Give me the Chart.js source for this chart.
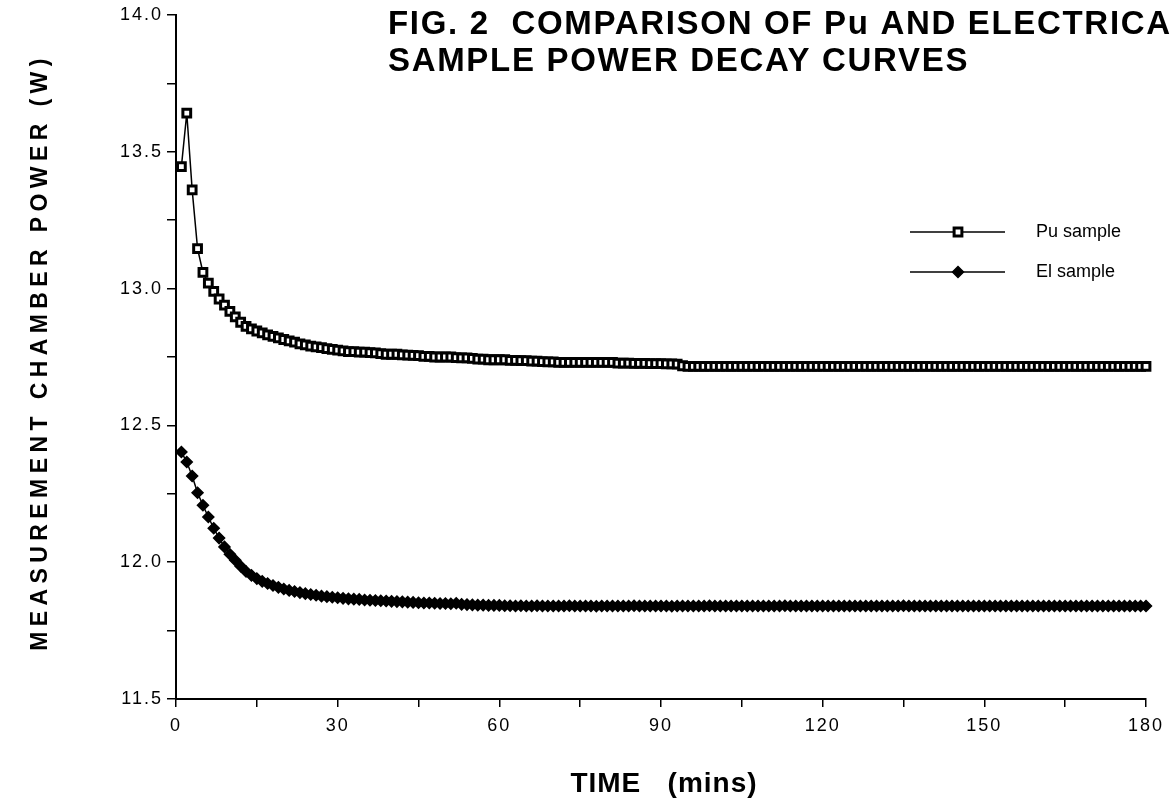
<!DOCTYPE html>
<html>
<head>
<meta charset="utf-8">
<script src="https://cdn.jsdelivr.net/npm/chart.js@4.4.0/dist/chart.umd.min.js"></script>
<style>
html, body { margin: 0; padding: 0; background: #fff; }
#wrap { position: relative; width: 1172px; height: 800px; }
</style>
</head>
<body>
<div id="wrap"><canvas id="chart" width="1172" height="800"></canvas></div>
<script>
// time of each reading (mins)
const times = [
  1, 2, 3, 4, 5, 6, 7, 8, 9, 10, 11, 12, 13, 14, 15, 16, 17, 18, 19, 20,
  21, 22, 23, 24, 25, 26, 27, 28, 29, 30, 31, 32, 33, 34, 35, 36, 37, 38, 39, 40,
  41, 42, 43, 44, 45, 46, 47, 48, 49, 50, 51, 52, 53, 54, 55, 56, 57, 58, 59, 60,
  61, 62, 63, 64, 65, 66, 67, 68, 69, 70, 71, 72, 73, 74, 75, 76, 77, 78, 79, 80,
  81, 82, 83, 84, 85, 86, 87, 88, 89, 90, 91, 92, 93, 94, 95, 96, 97, 98, 99, 100,
  101, 102, 103, 104, 105, 106, 107, 108, 109, 110, 111, 112, 113, 114, 115, 116, 117, 118, 119, 120,
  121, 122, 123, 124, 125, 126, 127, 128, 129, 130, 131, 132, 133, 134, 135, 136, 137, 138, 139, 140,
  141, 142, 143, 144, 145, 146, 147, 148, 149, 150, 151, 152, 153, 154, 155, 156, 157, 158, 159, 160,
  161, 162, 163, 164, 165, 166, 167, 168, 169, 170, 171, 172, 173, 174, 175, 176, 177, 178, 179, 180
];

// Pu sample power (W)
const puSample = [
  13.446, 13.641, 13.361, 13.146, 13.059, 13.020, 12.990, 12.962, 12.940, 12.917,
  12.897, 12.877, 12.862, 12.853, 12.845, 12.838, 12.831, 12.825, 12.820, 12.814,
  12.809, 12.804, 12.798, 12.794, 12.790, 12.787, 12.784, 12.781, 12.778, 12.775,
  12.772, 12.770, 12.770, 12.768, 12.768, 12.766, 12.765, 12.762, 12.760, 12.760,
  12.760, 12.758, 12.757, 12.756, 12.755, 12.752, 12.752, 12.750, 12.750, 12.750,
  12.750, 12.748, 12.747, 12.747, 12.745, 12.742, 12.742, 12.740, 12.740, 12.740,
  12.740, 12.738, 12.738, 12.737, 12.737, 12.735, 12.735, 12.733, 12.732, 12.732,
  12.730, 12.730, 12.730, 12.730, 12.730, 12.730, 12.730, 12.730, 12.730, 12.730,
  12.730, 12.728, 12.728, 12.728, 12.727, 12.727, 12.727, 12.726, 12.726, 12.726,
  12.725, 12.725, 12.724, 12.718, 12.716, 12.716, 12.716, 12.716, 12.716, 12.716,
  12.716, 12.716, 12.716, 12.716, 12.716, 12.716, 12.716, 12.716, 12.716, 12.716,
  12.716, 12.716, 12.716, 12.716, 12.716, 12.716, 12.716, 12.716, 12.716, 12.716,
  12.716, 12.716, 12.716, 12.716, 12.716, 12.716, 12.716, 12.716, 12.716, 12.716,
  12.716, 12.716, 12.716, 12.716, 12.716, 12.716, 12.716, 12.716, 12.716, 12.716,
  12.716, 12.716, 12.716, 12.716, 12.716, 12.716, 12.716, 12.716, 12.716, 12.716,
  12.716, 12.716, 12.716, 12.716, 12.716, 12.716, 12.716, 12.716, 12.716, 12.716,
  12.716, 12.716, 12.716, 12.716, 12.716, 12.716, 12.716, 12.716, 12.716, 12.716,
  12.716, 12.716, 12.716, 12.716, 12.716, 12.716, 12.716, 12.716, 12.716, 12.716
];

// El (electrical) sample power (W)
const elSample = [
  12.403, 12.366, 12.315, 12.254, 12.208, 12.165, 12.124, 12.088, 12.056, 12.029,
  12.007, 11.985, 11.966, 11.952, 11.940, 11.930, 11.922, 11.915, 11.908, 11.902,
  11.897, 11.893, 11.889, 11.885, 11.882, 11.879, 11.876, 11.874, 11.872, 11.870,
  11.868, 11.866, 11.865, 11.864, 11.862, 11.861, 11.860, 11.859, 11.858, 11.857,
  11.856, 11.855, 11.854, 11.853, 11.852, 11.851, 11.851, 11.850, 11.849, 11.849,
  11.848, 11.850, 11.846, 11.845, 11.844, 11.843, 11.843, 11.842, 11.842, 11.842,
  11.841, 11.841, 11.840, 11.841, 11.840, 11.840, 11.841, 11.840, 11.840, 11.840,
  11.840, 11.840, 11.841, 11.840, 11.840, 11.840, 11.840, 11.839, 11.840, 11.840,
  11.840, 11.840, 11.840, 11.840, 11.841, 11.840, 11.840, 11.840, 11.840, 11.840,
  11.840, 11.839, 11.840, 11.840, 11.840, 11.840, 11.840, 11.840, 11.841, 11.840,
  11.840, 11.840, 11.840, 11.840, 11.840, 11.840, 11.840, 11.840, 11.840, 11.840,
  11.840, 11.840, 11.841, 11.840, 11.840, 11.840, 11.840, 11.840, 11.840, 11.840,
  11.840, 11.840, 11.840, 11.840, 11.840, 11.840, 11.840, 11.840, 11.840, 11.840,
  11.840, 11.840, 11.840, 11.840, 11.841, 11.840, 11.840, 11.840, 11.840, 11.840,
  11.840, 11.840, 11.840, 11.840, 11.840, 11.840, 11.840, 11.840, 11.840, 11.840,
  11.840, 11.840, 11.840, 11.840, 11.840, 11.840, 11.840, 11.840, 11.840, 11.840,
  11.840, 11.840, 11.840, 11.840, 11.840, 11.840, 11.840, 11.840, 11.840, 11.840,
  11.840, 11.840, 11.840, 11.840, 11.840, 11.840, 11.840, 11.840, 11.840, 11.840
];

const seriesLabels = ['Pu sample', 'El sample'];
const titleLines = ['FIG. 2  COMPARISON OF Pu AND ELECTRICA', 'SAMPLE POWER DECAY CURVES'];
const yTitle = 'MEASUREMENT CHAMBER POWER (W)';
const xTitle = 'TIME   (mins)';

const FONT = '"Liberation Sans", Arial, sans-serif';
const NARROW = '"Liberation Sans Narrow", "Liberation Sans", Arial, sans-serif';

// text that sits outside Chart.js' own boxes: title, axis titles, legend
const extraText = {
  id: 'extraText',
  beforeDraw(chart) {
    chart.ctx.letterSpacing = '2px';
  },
  afterDraw(chart) {
    const ctx = chart.ctx;
    const area = chart.chartArea;
    ctx.save();
    ctx.fillStyle = '#000';
    ctx.strokeStyle = '#000';

    // figure title, top right over the plot
    ctx.font = 'bold 33px ' + NARROW;
    ctx.letterSpacing = '0px';
    const w1 = ctx.measureText(titleLines[0]).width;
    const sp = (1170 - 388 - w1) / (titleLines[0].length - 1);
    ctx.letterSpacing = sp.toFixed(2) + 'px';
    ctx.textAlign = 'left';
    ctx.textBaseline = 'alphabetic';
    ctx.fillText(titleLines[0], 388, 34);
    ctx.fillText(titleLines[1], 388, 71);

    // y axis title
    ctx.font = 'bold 23px ' + FONT;
    ctx.letterSpacing = '0px';
    const wy = ctx.measureText(yTitle).width;
    ctx.letterSpacing = ((592 - wy) / (yTitle.length - 1)).toFixed(2) + 'px';
    ctx.save();
    ctx.translate(47, 352);
    ctx.rotate(-Math.PI / 2);
    ctx.textAlign = 'center';
    ctx.fillText(yTitle, 0, 0);
    ctx.restore();

    // x axis title
    ctx.font = 'bold 28px ' + NARROW;
    ctx.letterSpacing = '1px';
    ctx.textAlign = 'center';
    ctx.fillText(xTitle, 664, 792);

    // legend
    ctx.font = '18px ' + FONT;
    ctx.letterSpacing = '0px';
    ctx.textAlign = 'left';
    ctx.textBaseline = 'middle';
    chart.data.datasets.forEach((ds, i) => {
      const y = 232 + i * 40;
      ctx.lineWidth = ds.borderWidth;
      ctx.beginPath();
      ctx.moveTo(910, y);
      ctx.lineTo(1005, y);
      ctx.stroke();
      ctx.fillStyle = ds.pointBackgroundColor;
      ctx.strokeStyle = ds.pointBorderColor;
      ctx.lineWidth = ds.pointBorderWidth;
      Chart.helpers.drawPoint(ctx, {
        pointStyle: ds.pointStyle, radius: ds.pointRadius, rotation: 0, borderWidth: ds.pointBorderWidth
      }, 958, y);
      ctx.fillStyle = '#000';
      ctx.strokeStyle = '#000';
      ctx.fillText(ds.label, 1036, y);
    });
    ctx.restore();
  }
};

const chart = new Chart(document.getElementById('chart'), {
  type: 'line',
  data: {
    datasets: [
      {
        label: seriesLabels[0],
        data: times.map((t, i) => ({ x: t, y: puSample[i] })),
        borderColor: '#000',
        borderWidth: 1.5,
        pointStyle: 'rect',
        pointRadius: 5.5,
        pointBackgroundColor: '#fff',
        pointBorderColor: '#000',
        pointBorderWidth: 3,
        tension: 0,
        clip: false
      },
      {
        label: seriesLabels[1],
        data: times.map((t, i) => ({ x: t, y: elSample[i] })),
        borderColor: '#000',
        borderWidth: 1.5,
        pointStyle: 'rectRot',
        pointRadius: 5.5,
        pointBackgroundColor: '#000',
        pointBorderColor: '#000',
        pointBorderWidth: 1.5,
        tension: 0,
        clip: false
      }
    ]
  },
  options: {
    responsive: false,
    animation: false,
    layout: { padding: { top: 15, right: 26, left: 0, bottom: 0 } },
    plugins: { legend: { display: false }, tooltip: { enabled: false } },
    scales: {
      x: {
        type: 'linear',
        min: 0,
        max: 180,
        afterFit(s) { s.height = 101; },
        border: { color: '#000', width: 2 },
        grid: { drawOnChartArea: false, drawTicks: true, tickLength: 8, color: '#000', lineWidth: 1.5 },
        ticks: {
          stepSize: 15,
          autoSkip: false,
          maxRotation: 0,
          padding: 8,
          color: '#000',
          font: { family: FONT, size: 18 },
          callback: v => (v % 30 === 0 ? String(v) : '')
        }
      },
      y: {
        min: 11.5,
        max: 14,
        afterFit(s) { s.width = 176; },
        border: { color: '#000', width: 2 },
        grid: { drawOnChartArea: false, drawTicks: true, tickLength: 9, color: '#000', lineWidth: 1.5 },
        ticks: {
          stepSize: 0.25,
          autoSkip: false,
          padding: 4,
          color: '#000',
          font: { family: FONT, size: 18 },
          callback: v => (Math.abs(v * 2 - Math.round(v * 2)) < 1e-6 ? v.toFixed(1) : '')
        }
      }
    }
  },
  plugins: [extraText]
});
</script>
</body>
</html>
